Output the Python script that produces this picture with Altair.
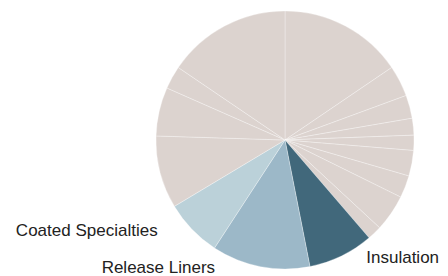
import altair as alt
import pandas as pd

segments = [
    "Segment A", "Segment B", "Segment C", "Segment D", "Segment E",
    "Segment F", "Segment G", "Segment H", "Segment I",
    "Insulation", "Release Liners", "Coated Specialties",
    "Segment J", "Segment K", "Segment L", "Segment M",
]
shares = [15.5, 3.9, 2.9, 2.1, 1.9, 3.2, 2.8, 4.6, 1.8,
          8.2, 12.3, 7.2, 9.1, 6.1, 2.9, 15.5]
highlight = ["Insulation", "Release Liners", "Coated Specialties"]
group_names = ["Other", "Insulation", "Release Liners", "Coated Specialties"]
group_colors = ["#dcd3cf", "#41687b", "#9cb8c8", "#bbd1d9"]

df = pd.DataFrame({
    "segment": segments,
    "share": shares,
    "idx": list(range(len(segments))),
    "group": [s if s in highlight else "Other" for s in segments],
})

theta_scale = alt.Scale(domain=[0, 100])

base = alt.Chart(df).transform_stack(
    stack="share", as_=["s0", "s1"], groupby=[],
    sort=[alt.SortField("idx", order="ascending")],
).transform_calculate(mid="(datum.s0 + datum.s1) / 2")

arcs = base.mark_arc(radius=129, stroke="white", strokeWidth=0.5, strokeOpacity=0.6).encode(
    theta=alt.Theta("s0:Q", scale=theta_scale),
    theta2="s1:Q",
    color=alt.Color("group:N", scale=alt.Scale(domain=group_names, range=group_colors), legend=None),
)

def label(name, align, dx, dy=0):
    return base.transform_filter(alt.datum.segment == name).mark_text(
        radius=131, align=align, baseline="middle", dx=dx, dy=dy,
        font="Liberation Sans", fontSize=17, color="#222222",
    ).encode(
        theta=alt.Theta("mid:Q", scale=theta_scale),
        text="segment:N",
    )

chart = alt.layer(
    arcs,
    label("Insulation", "left", 24),
    label("Release Liners", "right", -45, -1),
    label("Coated Specialties", "right", -33),
).properties(
    width=310, height=264,
    padding={"left": 122, "top": 0, "right": 0, "bottom": 4},
    autosize=alt.AutoSizeParams(type="none"),
).configure_view(stroke=None)

chart.save("out.html", embed_options={"renderer": "svg", "actions": False})
